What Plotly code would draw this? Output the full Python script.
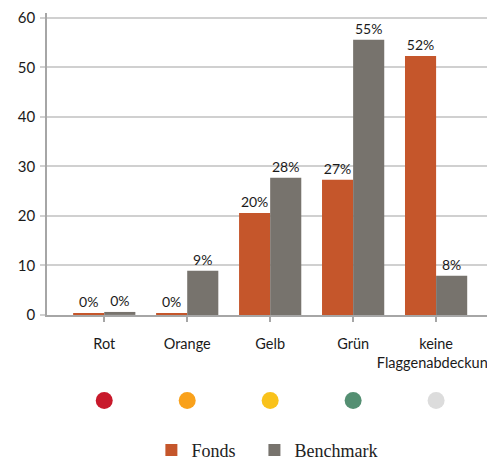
import plotly.graph_objects as go

categories = ['Rot', 'Orange', 'Gelb', 'Grün', 'keine<br>Flaggenabdeckung']
fonds = [0.2, 0.2, 20.6, 27.3, 52.3]
benchmark = [0.6, 8.9, 27.7, 55.6, 7.9]
fonds_text = ['0%', '0%', '20%', '27%', '52%']
benchmark_text = ['0%', '9%', '28%', '55%', '8%']
flag_colors = ['#C8192B', '#F9A11B', '#F9C21B', '#548F72', '#DCDCDC']

label_font = dict(family='Lato, sans-serif', size=14, color='#1a1a1a')
legend_font = dict(family='Liberation Serif, serif', size=18, color='#222')
x_idx = list(range(len(categories)))

fig = go.Figure()

fig.add_trace(go.Bar(
    x=x_idx, y=fonds, name='Fonds', legend='legend',
    marker=dict(color='#C5562B', line=dict(width=0)),
    text=fonds_text, textposition='outside', textfont=label_font,
    cliponaxis=False,
))
fig.add_trace(go.Bar(
    x=x_idx, y=benchmark, name='Benchmark', legend='legend2',
    marker=dict(color='#77736D', line=dict(width=0)),
    text=benchmark_text, textposition='outside', textfont=label_font,
    cliponaxis=False,
))

# flag dots row
fig.add_trace(go.Scatter(
    x=x_idx, y=[0.5] * len(x_idx), yaxis='y2', mode='markers',
    marker=dict(color=flag_colors, size=17),
    showlegend=False, hoverinfo='skip',
))

# page body has an 8px margin, so the figure is offset by 8px
fig.update_layout(
    width=487, height=453,
    margin=dict(l=39, r=0, t=5, b=40, autoexpand=False),
    paper_bgcolor='white', plot_bgcolor='white',
    barmode='group', bargap=0.25, bargroupgap=0,
    showlegend=True,
    legend=dict(
        orientation='h', x=0.233, xanchor='left', y=-0.072, yanchor='middle',
        font=legend_font, itemwidth=30,
    ),
    legend2=dict(
        orientation='h', x=0.463, xanchor='left', y=-0.072, yanchor='middle',
        font=legend_font, itemwidth=30,
    ),
    xaxis=dict(
        range=[-0.69, 4.71], automargin=False,
        tickmode='array', tickvals=x_idx, ticktext=categories,
        ticks='outside', ticklen=5, tickcolor='#A6A6A6', tickwidth=1.5,
        showline=True, linecolor='#A6A6A6', linewidth=1.5,
        showgrid=False, zeroline=False,
        tickfont=dict(family='Lato, sans-serif', size=14.5, color='#1a1a1a'),
        ticklabelstandoff=10, ticklabeloverflow='allow',
        anchor='y',
    ),
    yaxis=dict(
        domain=[0.26, 1.0], range=[0, 61], automargin=False,
        tickvals=[0, 10, 20, 30, 40, 50, 60],
        ticks='outside', ticklen=5, tickcolor='#D0D0D0', tickwidth=1.5,
        showline=True, linecolor='#A6A6A6', linewidth=1.5,
        showgrid=True, gridcolor='#D0D0D0', gridwidth=1.5,
        zeroline=False,
        tickfont=dict(family='Lato, sans-serif', size=15, color='#1a1a1a'),
        ticklabelstandoff=2,
    ),
    yaxis2=dict(
        domain=[0, 0.1], range=[0, 1], visible=False, fixedrange=True,
    ),
)

fig.write_html('out.html')
